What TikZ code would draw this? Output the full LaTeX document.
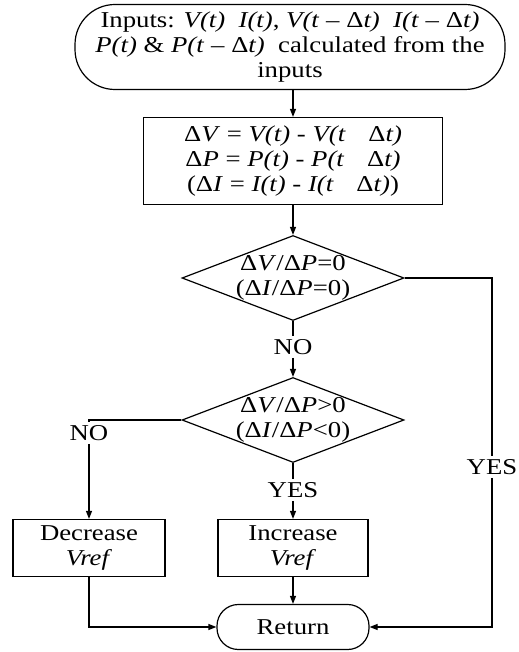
\documentclass[tikz,border=0pt]{standalone}
\usepackage{fontspec}
\setmainfont{Liberation Serif}[FakeStretch=1.18]
\usetikzlibrary{shapes.geometric,arrows.meta}
\newcommand{\vi}[1]{\textit{#1}}
\newcommand{\Dl}{\textup{Δ}}
\begin{document}
\begin{tikzpicture}[x=0.75pt,y=-0.75pt,
  font=\fontsize{17}{18.75}\selectfont,
  line width=0.9pt,
  terminal/.style={draw, rectangle, align=center, inner sep=0pt},
  procbox/.style={draw, rectangle, align=center, inner sep=0pt},
  decision/.style={draw, diamond, aspect=2.6, align=center, inner xsep=-4pt, inner ysep=-1pt},
  lbl/.style={inner sep=2pt},
  arr/.style={-{Triangle[length=6pt,width=4.5pt]}}]
\useasboundingbox (0,0) rectangle (518,652);

\node[terminal, rounded corners=30pt, minimum width=322.5pt, minimum height=63.75pt] (start) at (290,47)
  {Inputs: \vi{V(t)}\ \ \vi{I(t)}, \vi{V(t} – \Dl\vi{t)}\ \ \vi{I(t} – \Dl\vi{t)}\\
   \vi{P(t)} \& \vi{P(t} – \Dl\vi{t)}\ \ calculated from the\\ inputs};

\node[procbox, minimum width=224.25pt, minimum height=65.25pt] (calc) at (293,161)
  {\Dl\vi{V} = \vi{V(t)} - \vi{V(t}\quad \Dl\vi{t)}\\
   \Dl\vi{P} = \vi{P(t)} - \vi{P(t}\quad \Dl\vi{t)}\\
   (\Dl\vi{I} = \vi{I(t)} - \vi{I(t}\quad \Dl\vi{t)})};

\node[decision, minimum width=166.5pt, minimum height=63.75pt] (d1) at (293,278)
  {\Dl\vi{V}/\Dl\vi{P}=0\\(\Dl\vi{I}/\Dl\vi{P}=0)};

\node[decision, minimum width=166.5pt, minimum height=63.75pt] (d2) at (293,420)
  {\Dl\vi{V}/\Dl\vi{P}>0\\(\Dl\vi{I}/\Dl\vi{P}<0)};

\node[procbox, minimum width=114pt, minimum height=42.75pt] (dec) at (89,548)
  {Decrease\\ \vi{Vref}};
\node[procbox, minimum width=112.5pt, minimum height=42.75pt] (inc) at (293,548)
  {Increase\\ \vi{Vref}};
\node[terminal, rounded corners=16pt, minimum width=114pt, minimum height=33.75pt] (ret) at (293,627)
  {Return};

\node[lbl] (no1) at (293,347) {NO};
\node[lbl] (yes2) at (293,490) {YES};
\node[lbl] (no2) at (89,433) {NO};
\node[lbl] (yes1) at (492,467) {YES};

\coordinate (yc1) at (492,278);
\coordinate (yc2) at (492,627);
\coordinate (nc) at (89,420);
\coordinate (dc) at (89,627);

\draw[arr] (start.south -| calc.north) -- (calc.north);
\draw[arr] (calc.south) -- (d1.north);
\draw (d1.south) -- (no1.north);
\draw[arr] (no1.south) -- (d2.north);
\draw (d1.east) -- (yc1) -- (yes1.north);
\draw[arr] (yes1.south) -- (yc2) -- (ret.east);
\draw (d2.west) -- (nc) -- (no2.north);
\draw[arr] (no2.south) -- (dec.north);
\draw (d2.south) -- (yes2.north);
\draw[arr] (yes2.south) -- (inc.north);
\draw[arr] (inc.south) -- (ret.north);
\draw[arr] (dec.south) -- (dc) -- (ret.west);
\end{tikzpicture}
\end{document}
